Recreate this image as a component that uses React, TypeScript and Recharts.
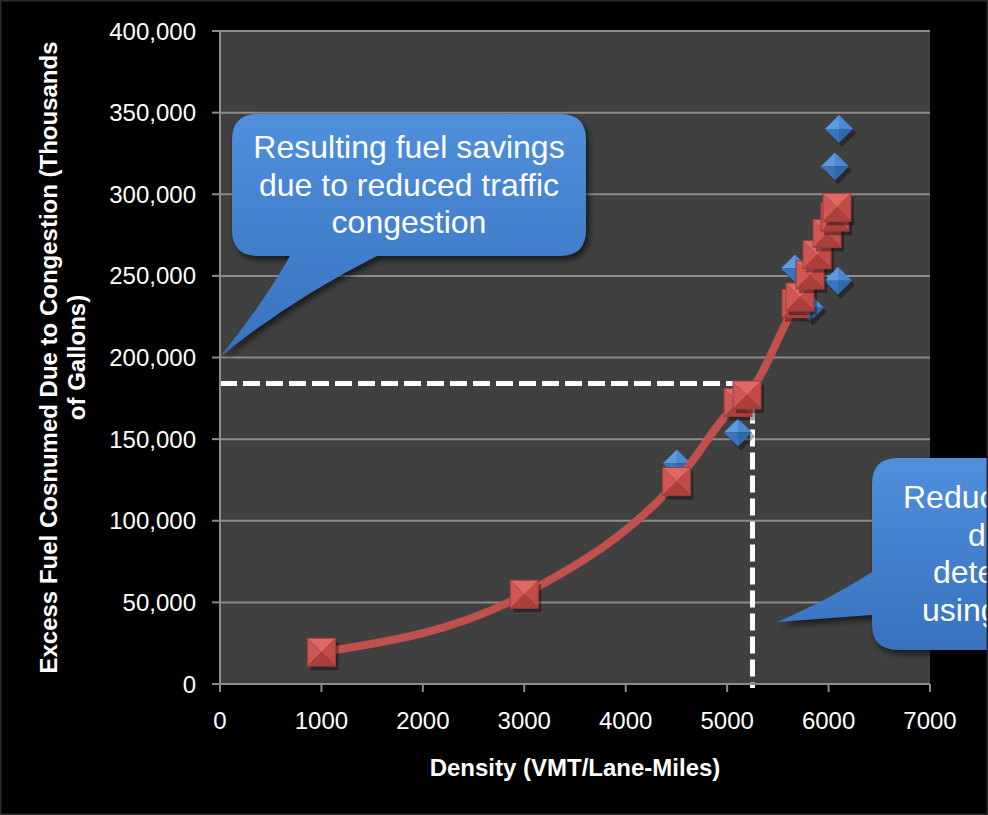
import { CartesianGrid, ReferenceLine, Scatter, ScatterChart, XAxis, YAxis } from 'recharts';

const xTicks = [0, 1000, 2000, 3000, 4000, 5000, 6000, 7000];
const yTicks = [0, 50000, 100000, 150000, 200000, 250000, 300000, 350000, 400000];

// observed (blue diamonds)
const observedDensity = [4505, 5107, 5669, 5817, 6093, 6063, 6103];
const observedFuel = [135000, 154000, 254500, 230500, 247000, 317000, 340000];

// model / trend (red squares + curve)
const modelDensity = [1000, 3000, 4500, 5107, 5196, 5679, 5718, 5817, 5886, 5985, 6063, 6083];
const modelFuel = [19500, 55000, 124000, 172500, 177000, 233000, 237000, 250500, 263000, 276000, 286000, 292000];

// dashed guide: fuel level and density where they meet
const guideDensity = 5250;
const guideFuel = 184000;

const observed = observedDensity.map((x, i) => ({ x, y: observedFuel[i] }));
const model = modelDensity.map((x, i) => ({ x, y: modelFuel[i] }));

const FONT = '"Liberation Sans", Arial, Helvetica, sans-serif';
const GRID = '#8c8c8c';

function Diamond(props: any) {
  const { cx, cy } = props;
  const r = 14;
  const t = `${cx},${cy - r}`;
  const rt = `${cx + r},${cy}`;
  const b = `${cx},${cy + r}`;
  const l = `${cx - r},${cy}`;
  const c = `${cx},${cy}`;
  return (
    <g>
      <polygon points={`${cx + 3},${cy - r + 4} ${cx + r + 3},${cy + 4} ${cx + 3},${cy + r + 4} ${cx - r + 3},${cy + 4}`} fill="rgba(0,0,0,0.35)" />
      <polygon points={`${l} ${t} ${c}`} fill="#5d9be0" />
      <polygon points={`${t} ${rt} ${c}`} fill="#4a88d2" />
      <polygon points={`${rt} ${b} ${c}`} fill="#2f68ae" />
      <polygon points={`${b} ${l} ${c}`} fill="#3873bb" />
    </g>
  );
}

function Square(props: any) {
  const { cx, cy } = props;
  const r = 14;
  const tl = `${cx - r},${cy - r}`;
  const tr = `${cx + r},${cy - r}`;
  const br = `${cx + r},${cy + r}`;
  const bl = `${cx - r},${cy + r}`;
  const c = `${cx},${cy}`;
  return (
    <g>
      <rect x={cx - r + 3} y={cy - r + 4} width={2 * r} height={2 * r} fill="rgba(0,0,0,0.35)" />
      <polygon points={`${tl} ${tr} ${c}`} fill="#e06864" />
      <polygon points={`${tl} ${bl} ${c}`} fill="#cf5652" />
      <polygon points={`${tr} ${br} ${c}`} fill="#c24a47" />
      <polygon points={`${bl} ${br} ${c}`} fill="#aa3f3c" />
      <rect x={cx - r} y={cy - r} width={2 * r} height={2 * r} fill="none" stroke="#98403d" strokeWidth={1} />
    </g>
  );
}

const NoDot = () => <g />;

function Callouts() {
  return (
    <svg width={988} height={815} style={{ position: 'absolute', left: 0, top: 0, pointerEvents: 'none' }}>
      <defs>
        <linearGradient id="calloutFill" x1="0" y1="0" x2="0" y2="1">
          <stop offset="0" stopColor="#4f8fdc" />
          <stop offset="1" stopColor="#3872be" />
        </linearGradient>
        <filter id="calloutShadow" x="-20%" y="-20%" width="140%" height="140%">
          <feGaussianBlur stdDeviation="3" />
        </filter>
      </defs>
      <path
        d="M 258 114 H 560 Q 586 114 586 140 V 230 Q 586 256 560 256 H 377 Q 290 300 220 357 Q 262 305 290 256 H 258 Q 232 256 232 230 V 140 Q 232 114 258 114 Z"
        fill="rgba(0,0,0,0.6)"
        transform="translate(3,4)"
        filter="url(#calloutShadow)"
      />
      <path
        d="M 258 114 H 560 Q 586 114 586 140 V 230 Q 586 256 560 256 H 377 Q 290 300 220 357 Q 262 305 290 256 H 258 Q 232 256 232 230 V 140 Q 232 114 258 114 Z"
        fill="url(#calloutFill)"
      />
      <g fill="#ffffff" fontFamily={FONT} fontSize={32} textAnchor="middle">
        <text x={409} y={158}>Resulting fuel savings</text>
        <text x={409} y={195.5}>due to reduced traffic</text>
        <text x={409} y={233}>congestion</text>
      </g>

      <path
        d="M 898 458 H 1100 V 650 H 898 Q 872 650 872 624 V 615 L 777 622 Q 832 598 872 572 V 484 Q 872 458 898 458 Z"
        fill="rgba(0,0,0,0.6)"
        transform="translate(3,4)"
        filter="url(#calloutShadow)"
      />
      <path
        d="M 898 458 H 1100 V 650 H 898 Q 872 650 872 624 V 615 L 777 622 Q 832 598 872 572 V 484 Q 872 458 898 458 Z"
        fill="url(#calloutFill)"
      />
      <g fill="#ffffff" fontFamily={FONT} fontSize={32}>
        <text x={903} y={508}>Reduction in</text>
        <text x={968} y={545.5}>density</text>
        <text x={933} y={583}>determined</text>
        <text x={922} y={620.5}>using model</text>
      </g>
      <rect x={0.75} y={0.75} width={986.5} height={813.5} fill="none" stroke="#2a2a2a" strokeWidth={1.5} />
    </svg>
  );
}

function App() {
  return (
    <div style={{ position: 'absolute', left: 0, top: 0, width: 988, height: 815, background: '#000', overflow: 'hidden' }}>
      <ScatterChart width={988} height={815} margin={{ top: 31, right: 58, bottom: 0, left: 0 }} style={{ fontFamily: FONT }}>
        <CartesianGrid vertical={false} stroke={GRID} strokeWidth={2} fill="#404040" />
        <XAxis
          type="number"
          dataKey="x"
          domain={[0, 7000]}
          ticks={xTicks}
          interval={0}
          height={131}
          tickSize={8}
          tickMargin={20}
          axisLine={{ stroke: GRID, strokeWidth: 2 }}
          tickLine={{ stroke: GRID, strokeWidth: 2 }}
          tick={{ fill: '#ffffff', fontSize: 24, fontFamily: FONT }}
          label={{
            content: ({ viewBox }: any) => (
              <text
                x={viewBox.x + viewBox.width / 2}
                y={viewBox.y + 92}
                textAnchor="middle"
                fill="#ffffff"
                fontSize={24}
                fontWeight="bold"
                fontFamily={FONT}
              >
                Density (VMT/Lane-Miles)
              </text>
            ),
          }}
        />
        <YAxis
          type="number"
          dataKey="y"
          domain={[0, 400000]}
          ticks={yTicks}
          interval={0}
          width={220}
          tickSize={8}
          tickMargin={16}
          tickFormatter={(v: number) => v.toLocaleString('en-US')}
          axisLine={{ stroke: GRID, strokeWidth: 2 }}
          tickLine={{ stroke: GRID, strokeWidth: 2 }}
          tick={{ fill: '#ffffff', fontSize: 24, fontFamily: FONT }}
          label={{
            content: ({ viewBox }: any) => {
              const cy = viewBox.y + viewBox.height / 2;
              return (
                <g fill="#ffffff" fontSize={24} fontWeight="bold" fontFamily={FONT} textAnchor="middle">
                  <text x={57} y={cy} transform={`rotate(-90 57 ${cy})`}>
                    Excess Fuel Cosnumed Due to Congestion (Thousands
                  </text>
                  <text x={85} y={cy} transform={`rotate(-90 85 ${cy})`}>
                    of Gallons)
                  </text>
                </g>
              );
            },
          }}
        />
        <Scatter data={observed} shape={<Diamond />} isAnimationActive={false} />
        <Scatter
          data={model}
          shape={<NoDot />}
          line={{ stroke: '#c0504d', strokeWidth: 8 }}
          lineJointType="monotoneX"
          isAnimationActive={false}
        />
        <Scatter data={model} shape={<Square />} isAnimationActive={false} />
        <ReferenceLine
          segment={[{ x: 0, y: guideFuel }, { x: guideDensity, y: guideFuel }]}
          stroke="#ffffff"
          strokeWidth={5}
          strokeDasharray="17 6"
          ifOverflow="visible"
        />
        <ReferenceLine
          segment={[{ x: guideDensity, y: guideFuel }, { x: guideDensity, y: -2500 }]}
          stroke="#ffffff"
          strokeWidth={5}
          strokeDasharray="17 6"
          ifOverflow="visible"
        />
      </ScatterChart>
      <Callouts />
    </div>
  );
}

export default App;
